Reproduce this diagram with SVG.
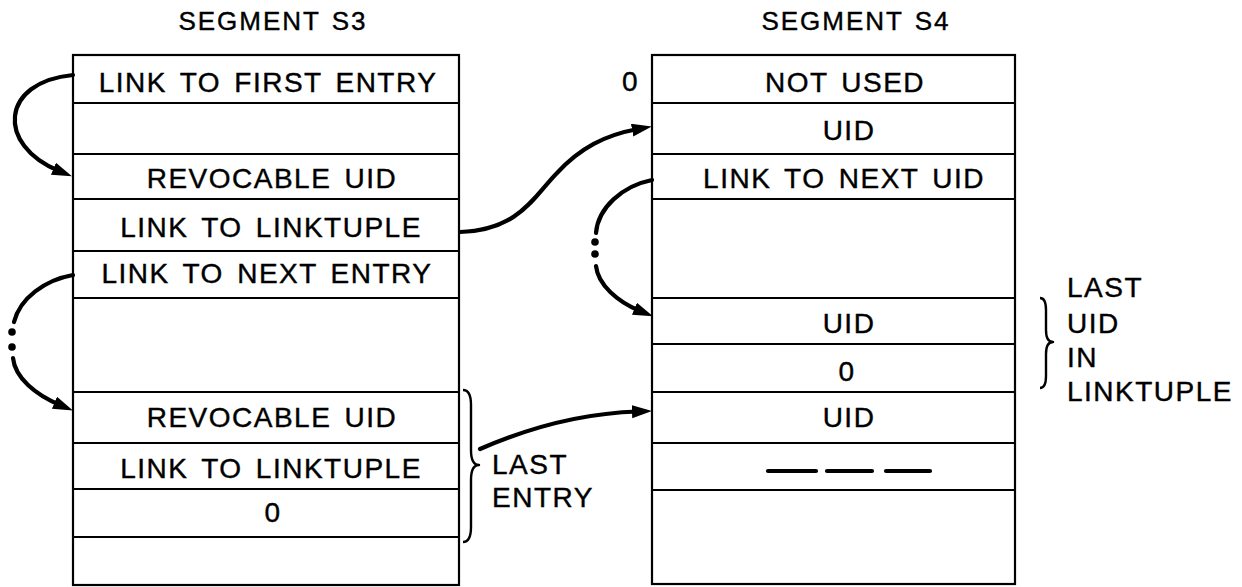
<svg xmlns="http://www.w3.org/2000/svg" width="1242" height="587" viewBox="0 0 1242 587">
<style>
  text { font-family: "Liberation Sans", Arial, sans-serif; font-size: 28px; letter-spacing: 1.5px; word-spacing: 4px; fill: #000; stroke: #000; stroke-width: 0.4px; }
  .c { text-anchor: middle; }
  .title { font-size: 26px; letter-spacing: 2px; word-spacing: 2px; }
  .box { fill: #fff; stroke: #000; stroke-width: 2.2; }
  .row { stroke: #000; stroke-width: 2.2; }
  .arrow { fill: none; stroke: #000; stroke-width: 4.2; stroke-linecap: round; }
  .brace { fill: none; stroke: #000; stroke-width: 2.4; stroke-linejoin: round; }
  .dot { fill: #000; }
</style>
<defs>
  <marker id="ah" markerUnits="userSpaceOnUse" markerWidth="22" markerHeight="15" refX="6" refY="6.5" orient="auto">
    <path d="M0,0 L20,6.5 L0,13 z" fill="#000"/>
  </marker>
</defs>
<rect width="1242" height="587" fill="#fff"/>

<text class="title c" x="273" y="30">SEGMENT S3</text>
<text class="title c" x="856" y="30">SEGMENT S4</text>

<g id="segment-s3">
  <rect class="box" x="73" y="55" width="386" height="530"/>
  <line class="row" x1="73" y1="103" x2="459" y2="103"/>
  <line class="row" x1="73" y1="154" x2="459" y2="154"/>
  <line class="row" x1="73" y1="199" x2="459" y2="199"/>
  <line class="row" x1="73" y1="251" x2="459" y2="251"/>
  <line class="row" x1="73" y1="298" x2="459" y2="298"/>
  <line class="row" x1="73" y1="392" x2="459" y2="392"/>
  <line class="row" x1="73" y1="443" x2="459" y2="443"/>
  <line class="row" x1="73" y1="489" x2="459" y2="489"/>
  <line class="row" x1="73" y1="537" x2="459" y2="537"/>
  <text class="c" x="268" y="92">LINK TO FIRST ENTRY</text>
  <text class="c" x="272" y="188">REVOCABLE UID</text>
  <text class="c" x="271" y="237">LINK TO LINKTUPLE</text>
  <text class="c" x="267" y="283">LINK TO NEXT ENTRY</text>
  <text class="c" x="272" y="427">REVOCABLE UID</text>
  <text class="c" x="271" y="478">LINK TO LINKTUPLE</text>
  <text class="c" x="273" y="522">0</text>
</g>

<g id="segment-s4">
  <rect class="box" x="652" y="55" width="363" height="529"/>
  <line class="row" x1="652" y1="103" x2="1015" y2="103"/>
  <line class="row" x1="652" y1="154" x2="1015" y2="154"/>
  <line class="row" x1="652" y1="199" x2="1015" y2="199"/>
  <line class="row" x1="652" y1="298" x2="1015" y2="298"/>
  <line class="row" x1="652" y1="344" x2="1015" y2="344"/>
  <line class="row" x1="652" y1="392" x2="1015" y2="392"/>
  <line class="row" x1="652" y1="443" x2="1015" y2="443"/>
  <line class="row" x1="652" y1="490" x2="1015" y2="490"/>
  <text class="c" x="845" y="92">NOT USED</text>
  <text class="c" x="849" y="140">UID</text>
  <text class="c" x="844" y="188">LINK TO NEXT UID</text>
  <text class="c" x="849" y="333">UID</text>
  <text class="c" x="847" y="381">0</text>
  <text class="c" x="849" y="427">UID</text>
  <g id="dashes">
    <line class="arrow" x1="768" y1="471" x2="816" y2="471"/>
    <line class="arrow" x1="827" y1="471" x2="872" y2="471"/>
    <line class="arrow" x1="886" y1="471" x2="930" y2="471"/>
  </g>
</g>

<g id="label-zero">
  <text class="c" x="630.5" y="91">0</text>
</g>

<g id="last-entry">
  <path class="brace" d="M463,390 Q471,390 471,405 L471,450 Q471,465 479,465 Q471,465 471,480 L471,527 Q471,542 463,542"/>
  <text x="492" y="474">LAST</text>
  <text x="492" y="507">ENTRY</text>
</g>

<g id="last-uid">
  <path class="brace" d="M1040,298 Q1046,298 1046,310 L1046,330 Q1046,342 1053,342 Q1046,342 1046,354 L1046,376 Q1046,388 1040,388"/>
  <text x="1067" y="297">LAST</text>
  <text x="1067" y="333">UID</text>
  <text x="1067" y="367">IN</text>
  <text x="1067" y="401">LINKTUPLE</text>
</g>

<g id="connectors">
  <path class="arrow" d="M73,75 C0,82 -4,145 59,171" marker-end="url(#ah)"/>
  <path class="arrow" d="M460,232 C520,230 535,195 557,173 C580,148 605,135 638,129" marker-end="url(#ah)"/>
  <path class="arrow" d="M73,275 C45,280 20,298 14,322"/>
  <circle class="dot" cx="12" cy="332" r="3.8"/>
  <circle class="dot" cx="12" cy="347" r="3.8"/>
  <path class="arrow" d="M13,358 C15,378 36,395 60,405" marker-end="url(#ah)"/>
  <path class="arrow" d="M652,180 C622,186 598,208 596,233"/>
  <circle class="dot" cx="595" cy="242" r="3.8"/>
  <circle class="dot" cx="595" cy="254" r="3.8"/>
  <path class="arrow" d="M596,266 C598,285 618,302 640,311" marker-end="url(#ah)"/>
  <path class="arrow" d="M480,449 C535,425 590,413 638,411.5" marker-end="url(#ah)"/>
</g>
</svg>
